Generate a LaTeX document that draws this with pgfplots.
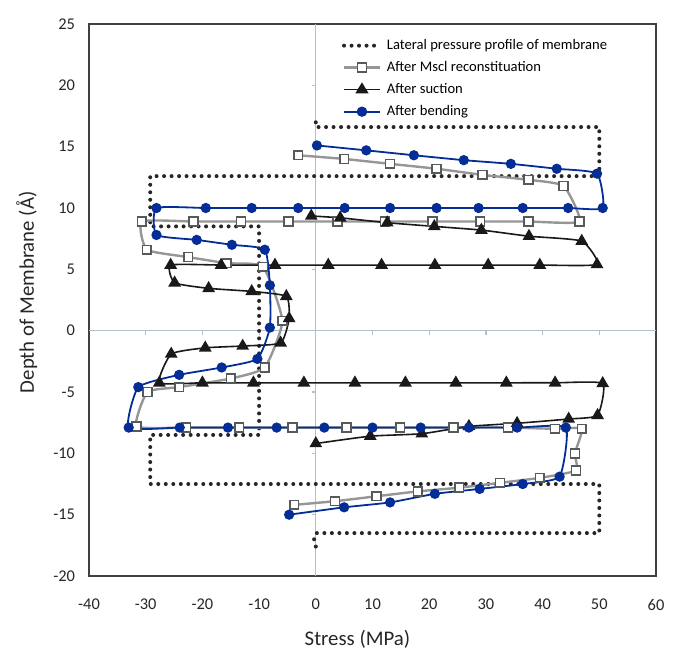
\documentclass[border=0pt]{standalone}
\usepackage{fontspec}
\setmainfont{Carlito}
\usepackage{pgfplots}
\pgfplotsset{compat=1.18}

\definecolor{bendblue}{RGB}{5,45,150}
\definecolor{mscgray}{RGB}{150,150,150}
\definecolor{mscedge}{RGB}{85,90,90}
\definecolor{suckblack}{RGB}{25,25,25}
\definecolor{zeroline}{RGB}{178,192,202}

\begin{document}
\begin{tikzpicture}
\begin{axis}[
  scale only axis, width=283.5pt, height=276pt,
  xmin=-40, xmax=60, ymin=-20, ymax=25,
  xtick={-40,-30,...,60}, ytick={-20,-15,...,25},
  major tick length=0pt,
  axis line style={draw=black!75, line width=0.7pt},
  /pgf/number format/assume math mode=true,
  ticklabel style={font=\fontsize{8.2}{9}\selectfont, text=black!85},
  xticklabel style={yshift=-8pt},
  yticklabel style={xshift=-3.5pt},
  xlabel={Stress (MPa)}, ylabel={Depth of Membrane (Å)},
  label style={font=\fontsize{10.4}{12}\selectfont, text=black!85},
  xlabel style={at={(axis description cs:0.4735,-0.114)}, anchor=center},
  ylabel style={at={(axis description cs:-0.11,0.514)}, anchor=center},
  legend cell align=left,
  legend image post style={xscale=1.05},
  legend style={draw=none, fill=none, at={(rel axis cs:0.435,0.985)}, anchor=north west,
    font=\fontsize{7.3}{8}\selectfont, row sep=2pt,
    nodes={text height=5.4pt, text depth=1.6pt, inner ysep=1pt, inner xsep=2.5pt}},
]
% zero lines with their small ticks
\draw[zeroline, line width=0.6pt] (axis cs:0,-20) -- (axis cs:0,25);
\draw[zeroline, line width=0.6pt] (axis cs:-40,0) -- (axis cs:60,0);
\pgfplotsinvokeforeach{-30,-20,-10,10,20,30,40,50}{
  \draw[zeroline, line width=0.6pt] (axis cs:#1,0) -- ++(0pt,-2pt);}
\pgfplotsinvokeforeach{-15,-10,-5,5,10,15,20}{
  \draw[zeroline, line width=0.6pt] (axis cs:0,#1) -- ++(-2pt,0pt);}

% lateral pressure profile
\addplot[black!85, line width=2pt, line cap=round, dash pattern=on 0pt off 3.75pt] coordinates {
  (0,-17.6) (-0.3,-17.0) (0,-16.5) (50,-16.5) (50,-12.5) (-29.2,-12.5) (-29.2,-8.5)
  (-10,-8.5) (-10,8.5) (-29.2,8.5) (-29.2,12.6) (50,12.6) (50,16.6) (0,16.6) (0,17.2)
};
\addlegendentry{Lateral pressure profile of membrane}

% after MscL reconstitution
\addplot[mscgray, line width=1.2pt, smooth, tension=0.3, mark=square*,
  mark size=2.2pt, mark options={fill=white, draw=mscedge, line width=0.8pt}] coordinates {
  (-3.1,14.3) (5.0,14.0) (13.1,13.6) (21.3,13.2) (29.4,12.7) (37.5,12.3) (43.7,11.8)
  (46.5,8.9) (37.5,8.9) (29.0,8.9) (20.6,8.9) (12.2,8.9) (3.8,8.9) (-4.8,8.9)
  (-13.2,8.9) (-21.6,8.9) (-30.7,8.9) (-29.8,6.6) (-22.5,6.0) (-15.7,5.5) (-9.3,5.2)
  (-5.9,0.8) (-9.0,-3.0) (-15.0,-3.9) (-24.1,-4.6) (-29.7,-5.0) (-31.6,-7.8)
  (-22.9,-7.9) (-13.5,-7.9) (-4.1,-7.9) (5.4,-7.9) (14.9,-7.9) (24.3,-7.9) (33.9,-7.9)
  (42.2,-8.0) (46.9,-8.0) (45.7,-10.0) (45.9,-11.4) (39.5,-12.0) (32.5,-12.4)
  (25.3,-12.8) (18.0,-13.1) (10.7,-13.5) (3.4,-13.9) (-3.8,-14.2)
};
\addlegendentry{After Mscl reconstituation}

% after suction
\addplot[suckblack, line width=0.8pt, smooth, tension=0.3, mark=triangle*,
  mark size=2.9pt, mark options={fill=suckblack}] coordinates {
  (-0.8,9.35) (4.3,9.2) (12.6,8.8) (20.9,8.5) (29.2,8.2) (37.6,7.7) (46.9,7.3)
  (49.6,5.4) (39.5,5.35) (30.4,5.35) (21.0,5.35) (11.6,5.35) (2.2,5.35) (-7.2,5.35)
  (-16.7,5.35) (-25.6,5.35) (-24.9,3.9) (-18.9,3.45) (-11.3,3.2) (-5.2,2.8) (-4.7,1.0)
  (-6.2,-1.0) (-12.9,-1.25) (-19.5,-1.4) (-25.5,-1.9) (-27.6,-4.25) (-20.0,-4.25)
  (-11.0,-4.25) (-2.1,-4.25) (6.9,-4.25) (15.8,-4.25) (24.7,-4.25) (33.6,-4.25)
  (42.2,-4.25) (50.6,-4.3) (49.7,-6.9) (44.6,-7.2) (35.5,-7.55) (27.0,-7.8)
  (18.7,-8.4) (9.6,-8.6) (0,-9.2)
};
\addlegendentry{After suction}

% after bending
\addplot[bendblue, line width=0.9pt, smooth, tension=0.3, mark=*,
  mark size=2.1pt, mark options={fill=bendblue}] coordinates {
  (0.2,15.1) (8.9,14.7) (17.3,14.3) (26.1,13.9) (34.4,13.6) (42.5,13.2) (49.6,12.8)
  (50.6,10.0) (44.5,10.0) (36.5,10.0) (28.7,10.0) (21.3,10.0) (13.1,10.0) (5.1,10.0)
  (-3.1,10.0) (-11.3,10.0) (-19.4,10.0) (-28.1,10.0) (-28.1,7.8) (-21.0,7.4)
  (-14.8,7.0) (-9.0,6.6) (-8.1,3.7) (-8.1,0.25) (-10.3,-2.3) (-16.6,-3.0)
  (-24.1,-3.6) (-31.3,-4.6) (-33.0,-7.9) (-24.0,-7.9) (-15.5,-7.9) (-6.9,-7.9)
  (1.5,-7.9) (10.0,-7.9) (18.5,-7.9) (27.0,-7.9) (35.5,-7.9) (44.1,-7.9)
  (43.0,-11.9) (36.5,-12.5) (28.9,-12.9) (21.0,-13.3) (13.1,-14.0) (5.0,-14.4)
  (-4.7,-15.0)
};
\addlegendentry{After bending}
\end{axis}
\pgfresetboundingbox
\path (-44.5pt,-45pt) rectangle (297pt,288pt);
\end{tikzpicture}
\end{document}
